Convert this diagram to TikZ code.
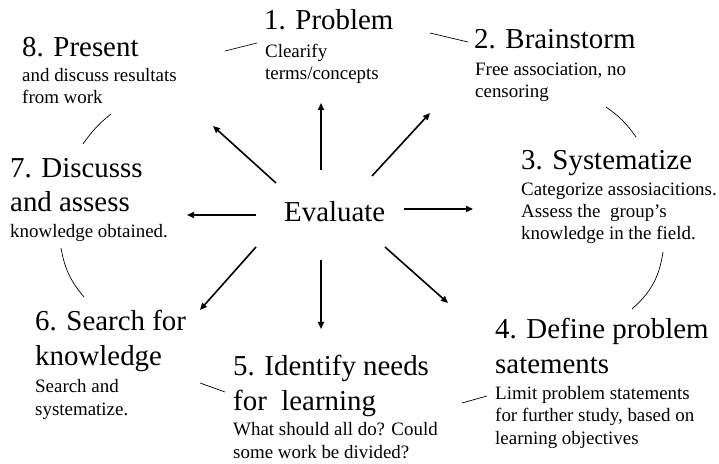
\documentclass[tikz,border=0pt]{standalone}
\usepackage{fontspec}
\setmainfont{Liberation Serif}
\usetikzlibrary{arrows.meta, positioning}

\begin{document}
\begin{tikzpicture}[x=1bp, y=-1bp,
            style = {inner sep=0pt},
            steptitle/.style = {anchor=base west, align=left, font=\fontsize{29}{34.5}\selectfont},
            stepdesc/.style = {anchor=base west, align=left, font=\fontsize{19}{22.5}\selectfont},
            evalarrow/.style = {-{Triangle[length=7bp,width=6bp]}, line width=1.6bp},
            link/.style = {line width=0.7bp}]
            \useasboundingbox (0,0) rectangle (719,464);
            \node (eval) [steptitle] at (284,222) {Evaluate};
            % steps around the circle (base = last line)
            \node (s1) [steptitle] at (264,30) {1. Problem};
            \node (d1) [stepdesc] at (265,80) {Clearify\\terms/concepts};
            \node (s2) [steptitle] at (474,49) {2. Brainstorm};
            \node (d2) [stepdesc] at (475,98) {Free association, no\\censoring};
            \node (s3) [steptitle] at (521,170) {3. Systematize};
            \node (d3) [stepdesc] at (521,240) {Categorize assosiacitions.\\Assess the~ group's\\knowledge in the field.};
            \node (s4) [steptitle] at (495,373) {4. Define problem\\satements};
            \node (d4) [stepdesc] at (495,444) {Limit problem statements\\for further study, based on\\learning objectives};
            \node (s5) [steptitle] at (233,410) {5. Identify needs\\for~ learning};
            \node (d5) [stepdesc] at (233,458) {What should all do? Could\\some work be divided?};
            \node (s6) [steptitle] at (35,365) {6. Search for\\knowledge};
            \node (d6) [stepdesc] at (35,415) {Search and\\systematize.};
            \node (s7) [steptitle] at (10,212) {7. Discusss\\and assess};
            \node (d7) [stepdesc] at (10,238) {knowledge obtained.};
            \node (s8) [steptitle] at (22,57) {8. Present};
            \node (d8) [stepdesc] at (22,104) {and discuss resultats\\from work};
            % arrows out of Evaluate
            \foreach \xa/\ya/\xb/\yb [count=\i] in {321/170/321/103, 372/176/430/113, 404/209/473/209, 385/247/448/303,
                321/260/321/329, 256/247/200/310, 256/215/187/215, 276/183/213/126}
            {
                \coordinate (o\i) at (\xa,\ya);
                \coordinate (e\i) at (\xb,\yb);
                \draw[evalarrow] (o\i) -- (e\i);
            }
            % thin links between the steps
            \coordinate (l81) at (225,51); \coordinate (l18) at (257,43);
            \coordinate (l12) at (430,33); \coordinate (l21) at (468,42);
            \coordinate (l23) at (606,107); \coordinate (l32) at (636,137);
            \coordinate (l34) at (663,252); \coordinate (l43) at (632,309);
            \coordinate (l45) at (487,396); \coordinate (l54) at (462,403);
            \coordinate (l56) at (225,392); \coordinate (l65) at (200,383);
            \coordinate (l67) at (84,297); \coordinate (l76) at (61,248);
            \coordinate (l78) at (83,144); \coordinate (l87) at (111,114);
            \draw[link] (l81) -- (l18);
            \draw[link] (l12) -- (l21);
            \draw[link] (l23) to[bend left=10] (l32);
            \draw[link] (l34) to[bend left=20] (l43);
            \draw[link] (l45) -- (l54);
            \draw[link] (l56) -- (l65);
            \draw[link] (l67) to[bend left=15] (l76);
            \draw[link] (l78) to[bend left=8] (l87);
\end{tikzpicture}
\end{document}
